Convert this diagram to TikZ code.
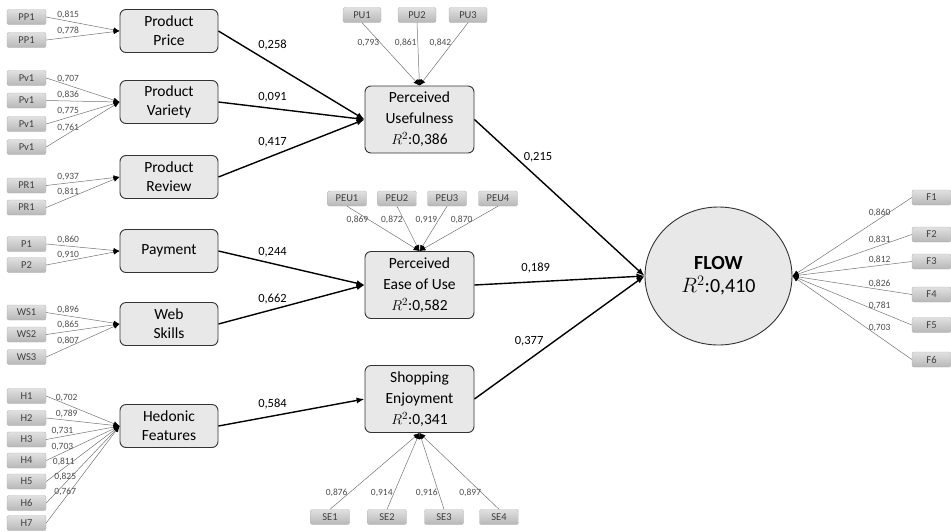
\documentclass[tikz,border=0pt]{standalone}
\usepackage{fontspec}
\setmainfont{Carlito}
\usetikzlibrary{arrows.meta,shapes.geometric}

\tikzset{
  indic/.style={rectangle, rounded corners=2pt, draw=black!30, top color=black!12, bottom color=black!28,
    minimum width=39pt, minimum height=15pt, inner sep=0pt, font=\fontsize{10.5}{11}\selectfont, text=black!75},
  latent/.style={rectangle, rounded corners=6pt, draw=black!80, line width=0.9pt, fill=black!9,
    align=center, inner sep=0pt, font=\fontsize{15.5}{19}\selectfont},
  outer/.style={latent, minimum width=98pt, minimum height=43pt},
  inner/.style={latent, minimum width=109pt, minimum height=67pt, font=\fontsize{15.5}{21}\selectfont},
  loadline/.style={draw=black!55, line width=0.5pt, -{Latex[length=6pt,width=5pt,color=black]}},
  pathline/.style={draw=black, line width=1.4pt, -{Latex[length=8pt,width=6pt]}},
  loadval/.style={font=\fontsize{9.5}{10}\selectfont, text=black!70, inner sep=1pt},
  pathval/.style={font=\fontsize{12.5}{13}\selectfont, inner sep=1pt},
}

\begin{document}
\begin{tikzpicture}[x=1pt,y=-1pt]
\useasboundingbox (0,0) rectangle (951,531);
% constructs
\node[outer] (price) at (169,31) {Product\\Price};
\node[outer] (variety) at (169,102) {Product\\Variety};
\node[outer] (review) at (169,177) {Product\\Review};
\node[outer] (payment) at (169,251) {Payment};
\node[outer] (skills) at (169,324) {Web\\Skills};
\node[outer] (hedonic) at (169,426) {Hedonic\\Features};
\node[inner] (pu) at (419.5,119.5) {Perceived\\Usefulness\\$R^2$:0,386};
\node[inner] (peu) at (419.5,285) {Perceived\\Ease of Use\\$R^2$:0,582};
\node[inner] (se) at (419.5,399) {Shopping\\Enjoyment\\$R^2$:0,341};
\node[ellipse, draw=black!80, line width=0.9pt, fill=black!9, minimum width=147pt, minimum height=138pt,
  align=center, font=\fontsize{20}{23}\selectfont] (flow) at (718.5,276) {\textbf{FLOW}\\$R^2$:0,410};
% indicators, left
\node[indic] (pp1a) at (26.5,17) {PP1};
\node[indic] (pp1b) at (26.5,40) {PP1};
\node[indic] (pv1a) at (26.5,78) {Pv1};
\node[indic] (pv1b) at (26.5,100.5) {Pv1};
\node[indic] (pv1c) at (26.5,124) {Pv1};
\node[indic] (pv1d) at (26.5,147) {Pv1};
\node[indic] (pr1a) at (26.5,185.5) {PR1};
\node[indic] (pr1b) at (26.5,207.5) {PR1};
\node[indic] (p1) at (26.5,244) {P1};
\node[indic] (p2) at (26.5,265) {P2};
\node[indic] (ws1) at (26.5,312.5) {WS1};
\node[indic] (ws2) at (26.5,334.5) {WS2};
\node[indic] (ws3) at (26.5,357) {WS3};
\node[indic] (h1) at (26.5,396) {H1};
\node[indic] (h2) at (26.5,418) {H2};
\node[indic] (h3) at (26.5,439.5) {H3};
\node[indic] (h4) at (26.5,460.5) {H4};
\node[indic] (h5) at (26.5,481.5) {H5};
\node[indic] (h6) at (26.5,503) {H6};
\node[indic] (h7) at (26.5,523) {H7};
% indicators, middle
\node[indic, minimum width=38pt] (pu1) at (362,15) {PU1};
\node[indic, minimum width=38pt] (pu2) at (417,15) {PU2};
\node[indic, minimum width=38pt] (pu3) at (468,15) {PU3};
\node[indic] (peu1) at (347,198.5) {PEU1};
\node[indic] (peu2) at (397,198.5) {PEU2};
\node[indic] (peu3) at (447,198.5) {PEU3};
\node[indic] (peu4) at (498,198.5) {PEU4};
\node[indic] (se1) at (330,517) {SE1};
\node[indic] (se2) at (387,517) {SE2};
\node[indic] (se3) at (444,517) {SE3};
\node[indic] (se4) at (499,517) {SE4};
% indicators, right
\node[indic] (f1) at (931.5,197.5) {F1};
\node[indic] (f2) at (931.5,234.5) {F2};
\node[indic] (f3) at (931.5,261.5) {F3};
\node[indic] (f4) at (931.5,294.5) {F4};
\node[indic] (f5) at (931.5,325) {F5};
\node[indic] (f6) at (931.5,359.5) {F6};
% loadings
\draw[loadline] (pp1a.east) -- node[loadval, pos=0.3, above=1pt] {0,815} (price.west);
\draw[loadline] (pp1b.east) -- node[loadval, pos=0.3, above=1pt] {0,778} (price.west);
\draw[loadline] (pv1a.east) -- node[loadval, pos=0.3, above=1pt] {0,707} (variety.west);
\draw[loadline] (pv1b.east) -- node[loadval, pos=0.3, above=1pt] {0,836} (variety.west);
\draw[loadline] (pv1c.east) -- node[loadval, pos=0.3, above=1pt] {0,775} (variety.west);
\draw[loadline] (pv1d.east) -- node[loadval, pos=0.3, above=1pt] {0,761} (variety.west);
\draw[loadline] (pr1a.east) -- node[loadval, pos=0.3, above=1pt] {0,937} (review.west);
\draw[loadline] (pr1b.east) -- node[loadval, pos=0.3, above=1pt] {0,811} (review.west);
\draw[loadline] (p1.east) -- node[loadval, pos=0.3, above=1pt] {0,860} (payment.west);
\draw[loadline] (p2.east) -- node[loadval, pos=0.3, above=1pt] {0,910} (payment.west);
\draw[loadline] (ws1.east) -- node[loadval, pos=0.3, above=1pt] {0,896} (skills.west);
\draw[loadline] (ws2.east) -- node[loadval, pos=0.3, above=1pt] {0,865} (skills.west);
\draw[loadline] (ws3.east) -- node[loadval, pos=0.3, above=1pt] {0,807} (skills.west);
\draw[loadline] (h1.east) -- node[loadval, pos=0.28, above=1pt] {0,702} (hedonic.west);
\draw[loadline] (h2.east) -- node[loadval, pos=0.28, above=1pt] {0,789} (hedonic.west);
\draw[loadline] (h3.east) -- node[loadval, pos=0.22, above=1pt] {0,731} (hedonic.west);
\draw[loadline] (h4.east) -- node[loadval, pos=0.22, above=1pt] {0,703} (hedonic.west);
\draw[loadline] (h5.east) -- node[loadval, pos=0.24, above=1pt] {0,811} (hedonic.west);
\draw[loadline] (h6.east) -- node[loadval, pos=0.26, above=1pt] {0,825} (hedonic.west);
\draw[loadline] (h7.east) -- node[loadval, pos=0.26, above=1pt] {0,767} (hedonic.west);
\draw[loadline] (pu1.south) -- node[loadval, pos=0.32, left] {0,793} (pu.north);
\draw[loadline] (pu2.south) -- node[loadval, pos=0.32, left] {0,861} (pu.north);
\draw[loadline] (pu3.south) -- node[loadval, pos=0.32, left] {0,842} (pu.north);
\draw[loadline] (peu1.south) -- node[loadval, pos=0.31, left] {0,869} (peu.north);
\draw[loadline] (peu2.south) -- node[loadval, pos=0.31, left] {0,872} (peu.north);
\draw[loadline] (peu3.south) -- node[loadval, pos=0.31, left] {0,919} (peu.north);
\draw[loadline] (peu4.south) -- node[loadval, pos=0.31, left] {0,870} (peu.north);
\draw[loadline] (se1.north) -- node[loadval, pos=0.21, left] {0,876} (se.south);
\draw[loadline] (se2.north) -- node[loadval, pos=0.21, left] {0,914} (se.south);
\draw[loadline] (se3.north) -- node[loadval, pos=0.21, left] {0,916} (se.south);
\draw[loadline] (se4.north) -- node[loadval, pos=0.21, left] {0,897} (se.south);
\draw[loadline] (f1.west) -- node[loadval, pos=0.27, above=1pt] {0,860} (flow.east);
\draw[loadline] (f2.west) -- node[loadval, pos=0.27, above=1pt] {0,831} (flow.east);
\draw[loadline] (f3.west) -- node[loadval, pos=0.27, above=0pt] {0,812} (flow.east);
\draw[loadline] (f4.west) -- node[loadval, pos=0.27, above=1pt] {0,826} (flow.east);
\draw[loadline] (f5.west) -- node[loadval, pos=0.27, above=1pt] {0,781} (flow.east);
\draw[loadline] (f6.west) -- node[loadval, pos=0.27, above=4pt] {0,703} (flow.east);
% paths
\draw[pathline] (price.east) -- node[pathval, pos=0.37, above=12pt] {0,258} (pu.west);
\draw[pathline] (variety.east) -- node[pathval, pos=0.37, above=5pt] {0,091} (pu.west);
\draw[pathline] (review.east) -- node[pathval, pos=0.37, above=7pt] {0,417} (pu.west);
\draw[pathline] (payment.east) -- node[pathval, pos=0.37, above=5pt] {0,244} (peu.west);
\draw[pathline] (skills.east) -- node[pathval, pos=0.37, above=4pt] {0,662} (peu.west);
\draw[pathline] (hedonic.east) -- node[pathval, pos=0.37, above=5pt] {0,584} (se.west);
\draw[pathline] (pu.east) -- node[pathval, pos=0.28, anchor=south west] {0,215} (flow.west);
\draw[pathline] (peu.east) -- node[pathval, pos=0.36, above=7pt] {0,189} (flow.west);
\draw[pathline] (se.east) -- node[pathval, pos=0.415, anchor=south east] {0,377} (flow.west);
\end{tikzpicture}
\end{document}
